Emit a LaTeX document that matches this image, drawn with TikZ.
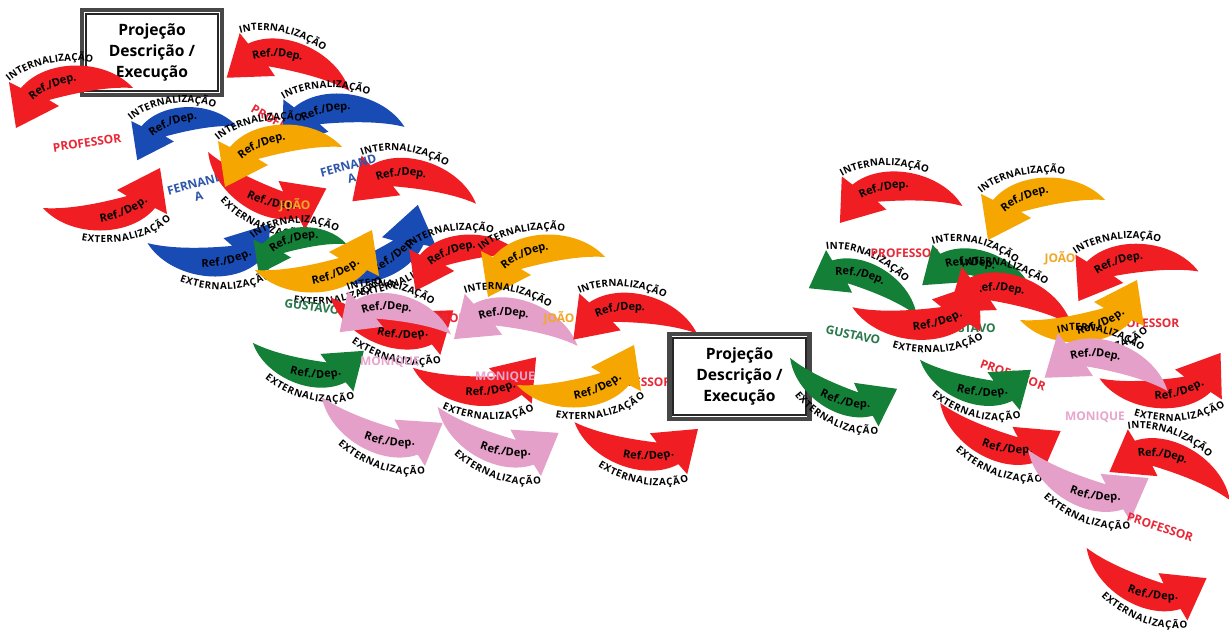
\documentclass[tikz,border=0pt]{standalone}
\usepackage{fontspec}
\setmainfont{Open Sans}
\usetikzlibrary{decorations.text}
\definecolor{ared}{RGB}{240,30,35}
\definecolor{ablue}{RGB}{25,75,180}
\definecolor{aorange}{RGB}{245,166,0}
\definecolor{agreen}{RGB}{20,128,55}
\definecolor{apink}{RGB}{228,160,200}
\definecolor{lred}{RGB}{232,40,55}
\definecolor{lblue}{RGB}{45,85,170}
\definecolor{lorange}{RGB}{240,168,40}
\definecolor{lgreen}{RGB}{40,120,75}
\definecolor{lpink}{RGB}{232,165,205}
\newcommand\arrtxt{\fontsize{5.6}{6}\selectfont\bfseries}
\newcommand\reftxt{\fontsize{6.3}{6.5}\selectfont\bfseries}
% internalizacao arrow: x, y, rotation, scale, colour
\newcommand{\IArr}[5]{%
\begin{scope}[shift={(#1,#2)},rotate=#3,scale=#4]
\fill[#5] (62,-8) .. controls (35,-38) and (-25,-38) .. (-50,-8) -- (-62,-14) -- (-55,32) -- (-12,10) -- (-22,4) .. controls (0,-2) and (35,-10) .. cycle;
\path[decorate,decoration={text along path,text={|\arrtxt|INTERNALIZAÇÃO},text align={left,left indent=0pt},raise=1.5pt}] (-60,-12) .. controls (-28,-40) and (36,-40) .. (64,-8);
\path[decorate,decoration={text along path,text={|\reftxt|Ref./Dep.},text align={left,left indent=4pt},raise=-2pt}] (-46,6) .. controls (-25,-15) and (10,-24) .. (45,-20);
\end{scope}}
% externalizacao arrow: x, y, rotation, scale, colour
\newcommand{\EArr}[5]{%
\begin{scope}[shift={(#1,#2)},rotate=#3,scale=#4]
\fill[#5] (-62,8) .. controls (-35,38) and (25,38) .. (50,8) -- (62,14) -- (55,-32) -- (12,-10) -- (22,-4) .. controls (0,2) and (-35,10) .. cycle;
\path[decorate,decoration={text along path,text={|\arrtxt|EXTERNALIZAÇÃO},text align={right,right indent=0pt},raise=-5.8pt}] (-64,8) .. controls (-36,40) and (28,40) .. (60,12);
\path[decorate,decoration={text along path,text={|\reftxt|Ref./Dep.},text align={right,right indent=4pt},raise=-2pt}] (-45,20) .. controls (-10,24) and (25,15) .. (46,-6);
\end{scope}}
\tikzset{
  lab/.style={font=\fontsize{6.8}{7.5}\selectfont\bfseries, inner sep=0pt, align=center},
  pbox/.style={draw=black!72, line width=2.6pt, fill=white, minimum width=2.8cm, minimum height=1.7cm,
     font=\fontsize{8.9}{12}\selectfont\bfseries, align=center, inner sep=0pt},
  pinner/.style={draw=black!85, line width=1.3pt}
}
\begin{document}
\begin{tikzpicture}[x=0.02cm,y=-0.02cm]
\fill[white] (0,0) rectangle (1229,629);
\useasboundingbox (0,0) rectangle (1229,629);

% ---------- first projection box
\node[pbox] (b1) at (152,52.5) {Projeção\\Descrição /\\Execução};
\draw[pinner] ([shift={(6,-6)}]b1.south west) rectangle ([shift={(-6,6)}]b1.north east);

% ---------- left cluster
\IArr{71}{96}{0}{1}{ared}
\IArr{290}{72}{-25}{1}{ared}
\node[lab,lred,rotate=8] (p1) at (87,143) {PROFESSOR};
\IArr{184}{133}{0}{0.85}{ablue}
\EArr{105}{200}{0}{1}{ared}
\node[lab,lblue,rotate=15] (f1) at (197,190) {FERNAND\\A};
\node[lab,lred,rotate=-30] (p2) at (282,125) {PROFESSOR};
\IArr{342}{124}{-10}{1}{ablue}
\EArr{263}{182}{-36}{1}{ared}
\IArr{280}{155}{0}{1}{aorange}
\node[lab,lorange] (j1) at (295,205) {JOÃO};
\IArr{415}{190}{-20}{1}{ared}
\node[lab,lblue,rotate=15] (f2) at (350,172) {FERNAND\\A};
\EArr{210}{246}{-10}{1}{ablue}
\EArr{373}{250}{15}{1}{ablue}
\IArr{300}{250}{0}{0.75}{agreen}
\EArr{317}{262}{0}{1}{aorange}
\node[lab,lgreen,rotate=-8] (g1) at (312,307) {GUSTAVO};
\IArr{465}{262}{0}{0.9}{ared}
\IArr{543}{265}{0}{1}{aorange}
\EArr{390}{316}{-25}{1}{ared}
\node[lab,lred] (p3) at (468,318) {PROFESSOR};
\IArr{396}{322}{-20}{0.9}{apink}
\IArr{517}{330}{-22}{1}{apink}
\node[lab,lorange] (j2) at (559,318) {JOÃO};
\EArr{307}{358}{-23}{0.9}{agreen}
\node[lab,lpink] (m1) at (390,362) {MONIQUE};
\EArr{379}{422}{-31}{1}{apink}
\EArr{495}{432}{-31}{1}{apink}
\EArr{475}{375}{-14}{1}{ared}
\node[lab,lpink] (m2) at (505,377) {MONIQUE};
\node[lab,lred] (p4) at (637,382) {PROFESSOR};
\EArr{579}{377}{0}{1}{aorange}
\IArr{635}{324}{-16}{1}{ared}
\EArr{635}{438}{-22}{1}{ared}

% ---------- second projection box
\node[pbox] (b2) at (739.5,376.5) {Projeção\\Descrição /\\Execução};
\draw[pinner] ([shift={(6,-6)}]b2.south west) rectangle ([shift={(-6,6)}]b2.north east);

% ---------- right cluster
\EArr{840}{384}{-35}{0.9}{agreen}
\IArr{900}{202}{-11}{1}{ared}
\IArr{1043}{208}{0}{1}{aorange}
\IArr{866}{291}{-33}{0.9}{agreen}
\node[lab,lred] (p5) at (905,253) {PROFESSOR};
\IArr{979}{278}{-23}{0.9}{agreen}
\node[lab,lgreen] (g2) at (968,328) {GUSTAVO};
\node[lab,lgreen,rotate=-12] (g3) at (853,335) {GUSTAVO};
\IArr{1012}{306}{-25}{1}{ared}
\EArr{918}{308}{-8}{1.05}{ared}
\IArr{1136}{274}{-5}{1}{ared}
\node[lab,lorange] (j3) at (1060,258) {JOÃO};
\node[lab,lred] (p6) at (1145,323) {PROFESSOR};
\EArr{1082}{312}{0}{1}{aorange}
\EArr{1162}{378}{-7}{1}{ared}
\IArr{1108}{372}{-25}{1}{apink}
\node[lab,lpink] (m3) at (1095,417) {MONIQUE};
\node[lab,lred,rotate=-20] (p7) at (1013,375) {PROFESSOR};
\EArr{974}{376}{-24}{0.9}{agreen}
\EArr{997}{429}{-32}{1}{ared}
\IArr{1173}{474}{-32}{1}{ared}
\EArr{1085}{476}{-32}{1}{apink}
\node[lab,lred,rotate=-18] (p8) at (1160,527) {PROFESSOR};
\EArr{1143}{575}{-33}{1}{ared}
\end{tikzpicture}
\end{document}
